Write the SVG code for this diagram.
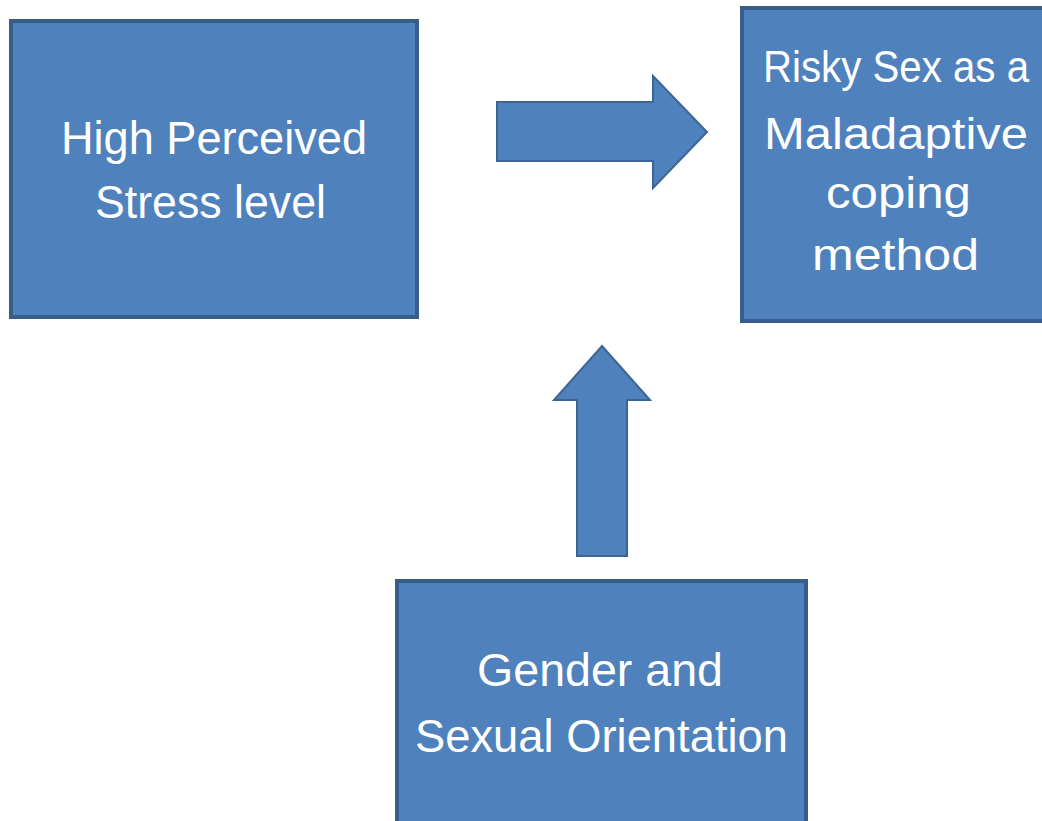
<svg xmlns="http://www.w3.org/2000/svg" width="1042" height="821" viewBox="0 0 1042 821">
<style>
.box{fill:#4f81bd;stroke:#385d8a;stroke-width:4}
.arr{fill:#4f81bd;stroke:#3d6594;stroke-width:2;stroke-linejoin:miter}
.t{font-family:"Liberation Sans",Arial,sans-serif;font-size:46px;fill:#ffffff;text-anchor:start}
.s{font-size:44px}
</style>
<rect width="1042" height="821" fill="#ffffff"/>
<g id="connectors">
<polygon class="arr" points="497,102 653,102 653,76 707,132 653,188 653,161 497,161"/>
<polygon class="arr" points="602,346 650,400 627,400 627,556 577,556 577,400 554,400"/>
</g>
<g id="node-stress">
<rect class="box" x="11" y="21" width="406" height="296"/>
<text class="t" x="61" y="154" textLength="306" lengthAdjust="spacingAndGlyphs">High Perceived</text>
<text class="t" x="95" y="218" textLength="231" lengthAdjust="spacingAndGlyphs">Stress level</text>
</g>
<g id="node-risky">
<rect class="box" x="742" y="8" width="312" height="313"/>
<text class="t s" x="763" y="82" textLength="266" lengthAdjust="spacingAndGlyphs">Risky Sex as a</text>
<text class="t s" x="764" y="149" textLength="264" lengthAdjust="spacingAndGlyphs">Maladaptive</text>
<text class="t s" x="826" y="208" textLength="145" lengthAdjust="spacingAndGlyphs">coping</text>
<text class="t s" x="812" y="270" textLength="167" lengthAdjust="spacingAndGlyphs">method</text>
</g>
<g id="node-gender">
<rect class="box" x="397" y="581" width="409" height="250"/>
<text class="t" x="477" y="686" textLength="246" lengthAdjust="spacingAndGlyphs">Gender and</text>
<text class="t" x="415" y="752" textLength="373" lengthAdjust="spacingAndGlyphs">Sexual Orientation</text>
</g>
</svg>
